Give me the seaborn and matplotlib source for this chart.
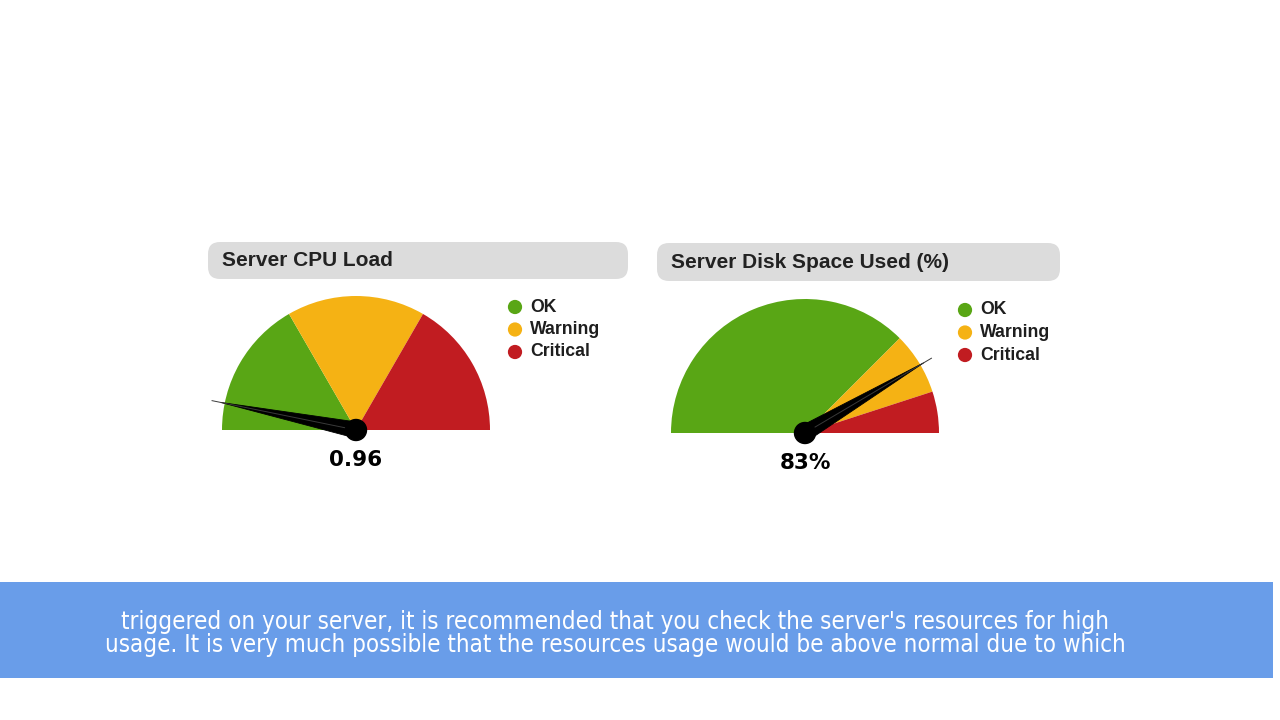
import numpy as np
import pandas as pd
import seaborn as sns
import matplotlib
matplotlib.use("Agg")
import matplotlib.pyplot as plt
from matplotlib.patches import FancyBboxPatch, Polygon, Circle, Rectangle

# ---------------- data ----------------
status_labels = ["OK", "Warning", "Critical"]
status_colors = ["#59a615", "#f5b214", "#c11c21"]

cpu_title = "Server CPU Load"
cpu_bands = [5, 5, 5]          # OK / Warning / Critical band widths (scale 0-15)
cpu_value = 0.96
cpu_label = "0.96"

disk_title = "Server Disk Space Used (%)"
disk_bands = [75, 15, 10]      # OK 0-75, Warning 75-90, Critical 90-100
disk_value = 83
disk_label = "83%"

caption_lines = [
    "triggered on your server, it is recommended that you check the server's resources for high",
    "usage. It is very much possible that the resources usage would be above normal due to which",
]

# ---------------- style ----------------
sns.set_theme(style="white")
plt.rcParams['font.family'] = ['Liberation Sans', 'DejaVu Sans']

W, H = 1280, 720
fig = plt.figure(figsize=(12.8, 7.2), dpi=100)
fig.patch.set_facecolor("white")
ax = fig.add_axes([0, 0, 1, 1])


def py(y):
    return H - y


def gauge(cx, cy, R, bands, value, label, title, tbox, legend_xy):
    total = float(sum(bands))
    wedges, _ = ax.pie(list(bands) + [total], colors=status_colors + ["white"],
                       startangle=180, counterclock=False,
                       center=(cx, py(cy)), radius=R, frame=True,
                       wedgeprops=dict(linewidth=0))
    wedges[-1].set_visible(False)

    # needle
    th = np.pi * (1 - value / total)
    d = np.array([np.cos(th), np.sin(th)])
    n = np.array([-d[1], d[0]])
    c = np.array([cx, py(cy)])
    tip_black = c + R * 1.03 * d
    tip_line = c + R * 1.1 * d
    hw = 8.0
    needle = Polygon([c + hw * n, tip_black, c - hw * n], closed=True,
                     facecolor="black", edgecolor="black", lw=0.6, zorder=5)
    ax.add_patch(needle)
    ax.plot([c[0], tip_line[0]], [c[1], tip_line[1]], color="#3a3a3a",
            lw=0.7, zorder=6, solid_capstyle="butt")
    ax.add_patch(Circle(tuple(c), 10.5, color="black", zorder=7))

    ax.text(cx, py(cy + 30), label, ha="center", va="center", fontsize=15.5,
            fontweight="bold", color="black", family=["DejaVu Sans"])

    # title bar
    x0, y0, x1, y1 = tbox
    ax.add_patch(FancyBboxPatch((x0 + 12, py(y1) + 12), (x1 - x0) - 24, (y1 - y0) - 24,
                                boxstyle="round,pad=12", facecolor="#dcdcdc",
                                edgecolor="none", zorder=1))
    ax.text(x0 + 14, py((y0 + y1) / 2 + 0.5), title, ha="left", va="center",
            fontsize=15, fontweight="bold", color="#222222", zorder=2)

    # legend
    lx, ly = legend_xy
    ys = [py(ly + 22.5 * i) for i in range(3)]
    df = pd.DataFrame({"x": [lx] * 3, "y": ys, "status": status_labels})
    sns.scatterplot(data=df, x="x", y="y", hue="status", palette=status_colors,
                    s=105, linewidth=0, legend=False, ax=ax, zorder=3)
    for yy, lab in zip(ys, status_labels):
        ax.text(lx + 15, yy, lab, ha="left", va="center", fontsize=12.7,
                fontweight="bold", color="#1e1e1e")


gauge(356, 430, 134, cpu_bands, cpu_value, cpu_label, cpu_title,
      (208, 242, 628, 279), (515, 307))
gauge(805, 433, 134, disk_bands, disk_value, disk_label, disk_title,
      (657, 243, 1060, 281), (965, 310))

# caption bar
ax.add_patch(Rectangle((0, py(678)), 1273, 96, facecolor="#699de9",
                       edgecolor="none", zorder=1))
for i, line in enumerate(caption_lines):
    ax.text(615, py(622 + 23 * i), line, ha="center", va="center",
            fontsize=17.3, color="white", family=["DejaVu Sans"],
            fontstretch="condensed", zorder=2)

ax.set_xlim(0, W)
ax.set_ylim(0, H)
ax.set_aspect("auto")
ax.axis("off")

fig.savefig("out.png", dpi=100, facecolor="white")
